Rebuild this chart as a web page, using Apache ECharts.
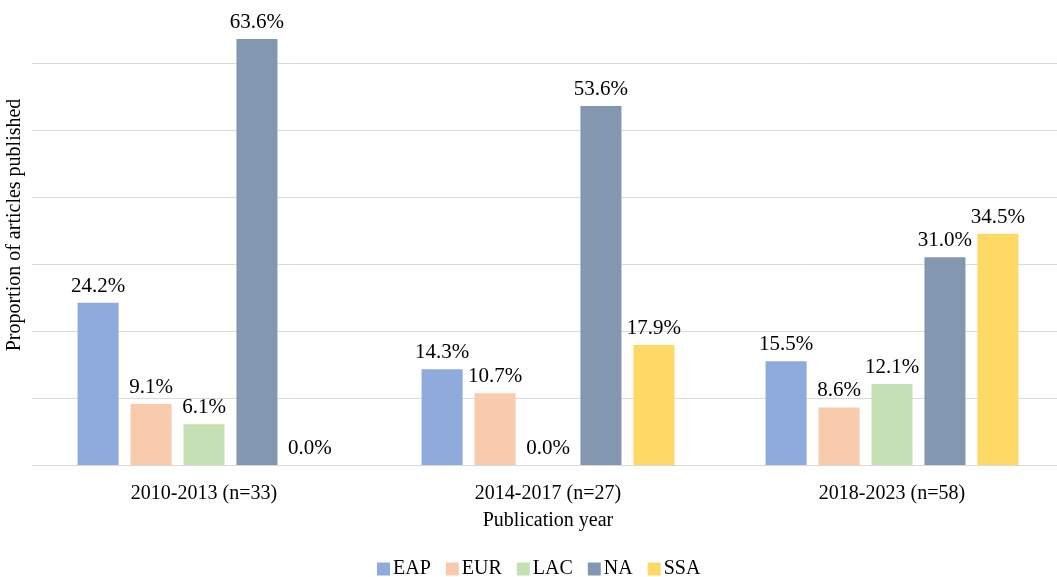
<!DOCTYPE html>
<html>
<head>
<meta charset="utf-8">
<script src="https://cdn.jsdelivr.net/npm/echarts@6/dist/echarts.min.js"></script>
<style>html,body{margin:0;padding:0;background:#fff;}#c{width:1057px;height:577px;}</style>
</head>
<body>
<div id="c"></div>
<script>
const categories = ['2010-2013 (n=33)', '2014-2017 (n=27)', '2018-2023 (n=58)'];
const seriesNames = ['EAP', 'EUR', 'LAC', 'NA', 'SSA'];
const EAP = [24.2, 14.3, 15.5];
const EUR = [9.1, 10.7, 8.6];
const LAC = [6.1, 0.0, 12.1];
const NA = [63.6, 53.6, 31.0];
const SSA = [0.0, 17.9, 34.5];
const colors = ['#8FAADC', '#F8CBAD', '#C5E0B4', '#8497B0', '#FFD966'];
const values = [EAP, EUR, LAC, NA, SSA];
const font = 'Liberation Serif';

const chart = echarts.init(document.getElementById('c'), null, {renderer: 'canvas'});
chart.setOption({
  animation: false,
  textStyle: {fontFamily: font},
  grid: {left: 32, width: 1032, top: -4, height: 469, outerBoundsMode: 'none', containLabel: false},
  legend: {
    data: seriesNames,
    left: 372, top: 554,
    icon: 'rect', itemWidth: 13, itemHeight: 13, itemGap: 15,
    textStyle: {fontFamily: font, fontSize: 20, color: '#000', padding: [0, 0, 0, -2]}
  },
  xAxis: {
    type: 'category', data: categories,
    axisLine: {lineStyle: {color: '#d9d9d9', width: 1}},
    axisTick: {show: false},
    axisLabel: {fontFamily: font, fontSize: 20, color: '#000', margin: 19},
    name: 'Publication year', nameLocation: 'middle', nameGap: 46,
    nameTextStyle: {fontFamily: font, fontSize: 20, color: '#000'}
  },
  yAxis: {
    type: 'value', min: 0, max: 70, interval: 10,
    axisLabel: {show: false}, axisLine: {show: false}, axisTick: {show: false},
    splitLine: {showMaxLine: false, lineStyle: {color: '#d9d9d9', width: 1}},
    name: 'Proportion of articles published', nameLocation: 'middle', nameGap: 7,
    nameTextStyle: {fontFamily: font, fontSize: 20, color: '#000', padding: [0, 0, 0, 11]}
  },
  series: seriesNames.map((n, i) => ({
    name: n, type: 'bar', data: values[i],
    barGap: '29%', barCategoryGap: '26.5%',
    itemStyle: {color: colors[i]},
    label: {show: true, position: 'top', distance: 6, fontFamily: font, fontSize: 21, color: '#000',
      formatter: p => p.value.toFixed(1) + '%'}
  }))
});
</script>
</body>
</html>
